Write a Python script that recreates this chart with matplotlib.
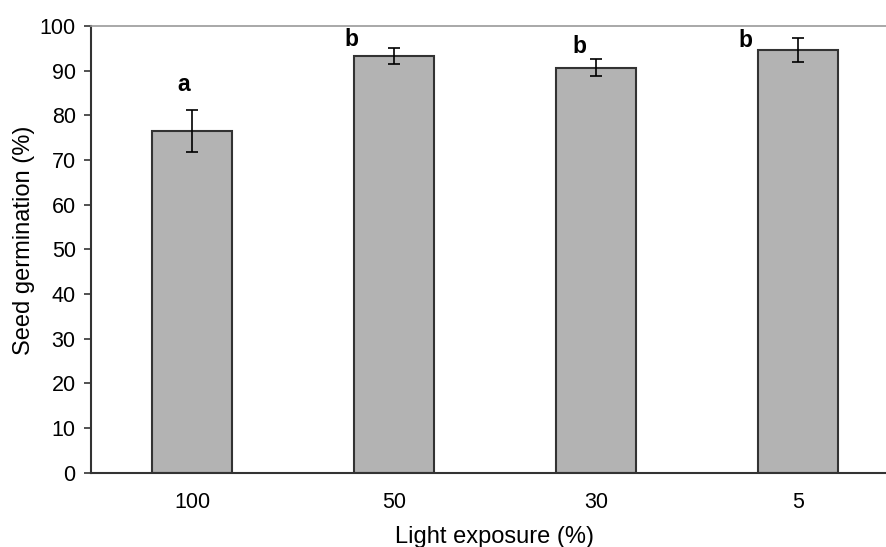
import matplotlib.pyplot as plt

plt.rcParams['font.family'] = ['Liberation Sans', 'DejaVu Sans']

light = ['100', '50', '30', '5']
germination = [76.6, 93.3, 90.7, 94.6]
err = [4.7, 1.7, 2.0, 2.7]
letters = ['a', 'b', 'b', 'b']

fig = plt.figure(figsize=(8.87, 5.47), dpi=100)
ax = fig.add_axes([91 / 887, 74.3 / 547, 808 / 887, 446.7 / 547])

x = range(len(light))
ax.bar(x, germination, width=0.4, color='#b3b3b3', edgecolor='#333333',
       linewidth=1.5, zorder=2)
ax.errorbar(x, germination, yerr=err, fmt='none', ecolor='black',
            elinewidth=1.2, capsize=4.3, capthick=1.2, zorder=3)

# significance letters, placed a bit to the left of each bar
label_dx = [-0.04, -0.21, -0.08, -0.26]
label_y = [86.8, 97.0, 95.3, 96.7]
for i, t in enumerate(letters):
    ax.text(i + label_dx[i], label_y[i], t, ha='center', va='center',
            fontsize=16.5, fontweight='bold')

ax.set_xlim(-0.5, 3.5)
ax.set_ylim(0, 100)
ax.set_yticks(range(0, 101, 10))
ax.set_xticks(list(x))
ax.set_xticklabels(light)
ax.tick_params(axis='y', length=5, width=1.2, color='#333333', pad=6,
               labelsize=15.5)
ax.tick_params(axis='x', length=0, pad=14, labelsize=15.5)

ax.spines['left'].set_color('#333333')
ax.spines['left'].set_linewidth(1.5)
ax.spines['bottom'].set_color('#333333')
ax.spines['bottom'].set_linewidth(1.5)
ax.spines['top'].set_color('#999999')
ax.spines['top'].set_linewidth(1.2)
ax.spines['right'].set_visible(False)

ax.set_xlabel('Light exposure (%)', fontsize=17, labelpad=9)
ax.set_ylabel('Seed germination (%)', fontsize=17)
ax.yaxis.set_label_coords(-0.069, 0.52)

fig.savefig('out.png', dpi=100)
